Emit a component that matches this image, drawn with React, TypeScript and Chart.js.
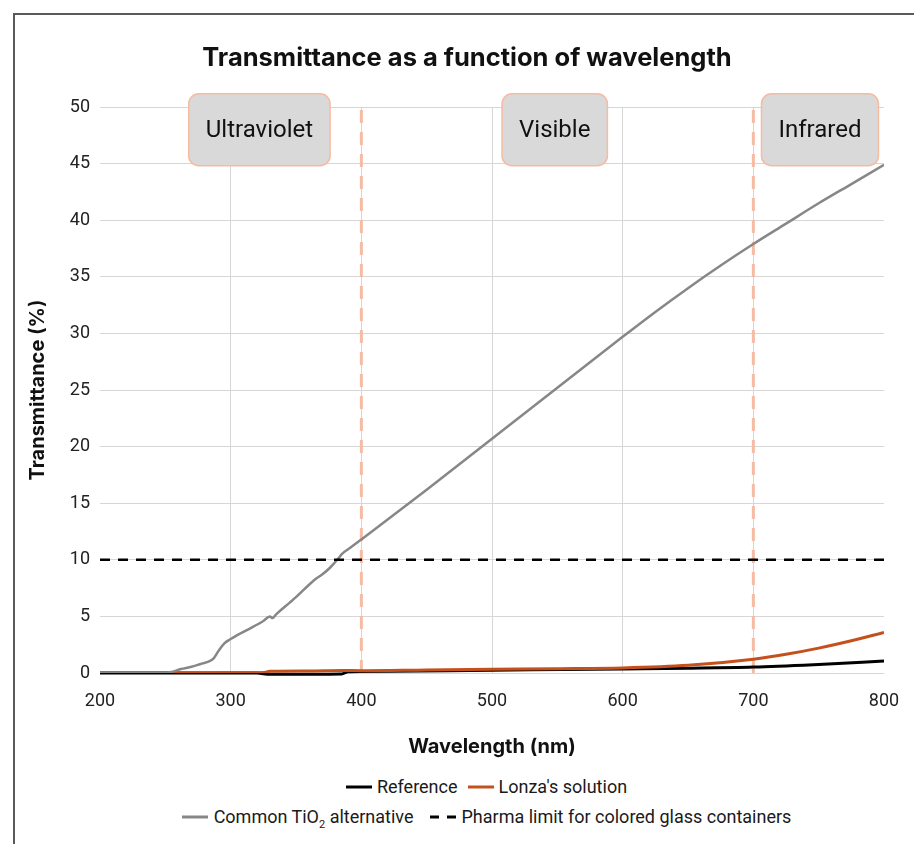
import React, { useEffect, useRef } from 'react';
import { Chart, registerables } from 'chart.js';

Chart.register(...registerables);

// ---- Data ----
const tio2Wavelength = [200, 250, 255, 262, 270, 277, 283, 287, 291, 295, 300, 305, 315, 325, 330, 332, 335, 345, 350, 360, 365, 370, 376, 383, 385, 392, 400, 450, 500, 550, 600, 625, 650, 675, 700, 725, 750, 775, 800];
const tio2Transmittance = [0, 0, 0.1, 0.35, 0.55, 0.8, 1.0, 1.3, 2.0, 2.6, 3.0, 3.35, 3.95, 4.6, 5.0, 4.85, 5.2, 6.2, 6.7, 7.8, 8.3, 8.7, 9.3, 10.2, 10.5, 11.1, 11.8, 16.2, 20.7, 25.2, 29.7, 31.9, 34.0, 36.0, 37.9, 39.7, 41.5, 43.2, 44.9];

const lonzaWavelength = [200, 250, 300, 325, 330, 360, 385, 400, 450, 500, 550, 600, 650, 700, 725, 750, 775, 800];
const lonzaTransmittance = [0, 0, 0.02, 0.05, 0.15, 0.18, 0.22, 0.2, 0.27, 0.33, 0.38, 0.45, 0.68, 1.22, 1.65, 2.2, 2.85, 3.58];

const referenceWavelength = [200, 320, 330, 385, 390, 400, 500, 600, 650, 700, 750, 800];
const referenceTransmittance = [0, 0, -0.12, -0.08, 0.12, 0.14, 0.25, 0.36, 0.42, 0.52, 0.76, 1.06];

const pharmaLimitWavelength = [200, 800];
const pharmaLimitValue = [10, 10];

const regionBoundaries = [400, 700];
const regionLabels = ['Ultraviolet', 'Visible', 'Infrared'];
const regionCenters = [322, 548, 751];
const regionLabelLevel = 48;

const xTicks = [200, 300, 400, 500, 600, 700, 800];

const toPoints = (xs: number[], ys: number[]) => xs.map((x, i) => ({ x, y: ys[i] }));

const FONT = 'Roboto, "Noto Sans", sans-serif';
const TITLE_FONT = 'Inter, Roboto, sans-serif';

const regionPlugin = {
  id: 'regionBoxes',
  afterDatasetsDraw(chart: any) {
    const { ctx, scales } = chart;
    const x = scales.x;
    const y = scales.y;
    ctx.save();
    ctx.font = `24px ${FONT}`;
    regionLabels.forEach((label, i) => {
      const cx = x.getPixelForValue(regionCenters[i]);
      const cy = y.getPixelForValue(regionLabelLevel);
      const w = ctx.measureText(label).width + 34;
      const h = 72;
      ctx.beginPath();
      if (ctx.roundRect) ctx.roundRect(cx - w / 2, cy - h / 2, w, h, 10);
      else ctx.rect(cx - w / 2, cy - h / 2, w, h);
      ctx.fillStyle = '#d9d9d9';
      ctx.fill();
      ctx.lineWidth = 1.5;
      ctx.strokeStyle = '#f6bba3';
      ctx.stroke();
      ctx.fillStyle = '#111111';
      ctx.textAlign = 'center';
      ctx.textBaseline = 'middle';
      ctx.fillText(label, cx, cy + 1);
    });
    ctx.restore();
  },
};

function LegendLine({ color, dashed }: { color: string; dashed?: boolean }) {
  return (
    <svg width={26} height={6} style={{ display: 'inline-block', verticalAlign: 'middle' }}>
      <line x1={0} y1={3} x2={26} y2={3} stroke={color} strokeWidth={3} strokeDasharray={dashed ? '9 8' : undefined} />
    </svg>
  );
}

export default function App() {
  const canvasRef = useRef<HTMLCanvasElement | null>(null);

  useEffect(() => {
    if (!canvasRef.current) return;
    const chart = new Chart(canvasRef.current, {
      type: 'line',
      data: {
        datasets: [
          {
            label: 'Pharma limit for colored glass containers',
            data: toPoints(pharmaLimitWavelength, pharmaLimitValue),
            borderColor: '#000000',
            borderWidth: 2.5,
            borderDash: [10, 8],
            pointRadius: 0,
          },
          {
            label: 'Common TiO₂ alternative',
            data: toPoints(tio2Wavelength, tio2Transmittance),
            borderColor: '#878787',
            borderWidth: 2.5,
            pointRadius: 0,
            cubicInterpolationMode: 'monotone',
          },
          {
            label: "Lonza's solution",
            data: toPoints(lonzaWavelength, lonzaTransmittance),
            borderColor: '#c4501c',
            borderWidth: 3,
            pointRadius: 0,
            cubicInterpolationMode: 'monotone',
          },
          {
            label: 'Reference',
            data: toPoints(referenceWavelength, referenceTransmittance),
            borderColor: '#000000',
            borderWidth: 3,
            pointRadius: 0,
            cubicInterpolationMode: 'monotone',
            clip: 4,
          },
          ...regionBoundaries.map((b) => ({
            label: `boundary ${b}`,
            data: [{ x: b, y: 0 }, { x: b, y: 50 }],
            borderColor: '#f6bba3',
            borderWidth: 3,
            borderDash: [13, 9],
            pointRadius: 0,
          })),
        ],
      },
      options: {
        animation: false,
        responsive: false,
        layout: { padding: { left: 50, right: 30, top: 0, bottom: 0 } },
        plugins: {
          legend: { display: false },
          tooltip: { enabled: false },
          title: {
            display: true,
            text: 'Transmittance as a function of wavelength',
            color: '#111111',
            font: { family: TITLE_FONT, size: 25.5, weight: 'bold', lineHeight: 1.2 },
            padding: { top: 43.5, bottom: 33 },
          },
        },
        scales: {
          x: {
            type: 'linear',
            min: 200,
            max: 800,
            afterBuildTicks: (scale: any) => {
              scale.ticks = xTicks.map((v) => ({ value: v }));
            },
            afterFit: (scale: any) => {
              scale.height = 87;
              scale.paddingLeft = 0;
              scale.paddingRight = 0;
            },
            ticks: {
              color: '#222222',
              font: { family: FONT, size: 18 },
              padding: 18,
            },
            grid: {
              color: (ctx: any) =>
                ctx.tick && (ctx.tick.value === 200 || ctx.tick.value === 800) ? 'rgba(0,0,0,0)' : '#d6d6d6',
              drawTicks: false,
              lineWidth: 1,
            },
            border: { display: false },
            title: {
              display: true,
              text: 'Wavelength (nm)',
              color: '#111111',
              font: { family: TITLE_FONT, size: 20, weight: 'bold', lineHeight: 1.2 },
              padding: { top: 0, bottom: 1 },
            },
          },
          y: {
            min: 0,
            max: 50,
            afterFit: (scale: any) => {
              scale.width = 50;
            },
            ticks: {
              stepSize: 5,
              color: '#222222',
              font: { family: FONT, size: 18 },
              padding: 10,
            },
            grid: { color: '#d6d6d6', drawTicks: false, lineWidth: 1 },
            border: { display: false },
            title: {
              display: true,
              text: 'Transmittance (%)',
              color: '#111111',
              font: { family: TITLE_FONT, size: 20, weight: 'bold', lineHeight: 1.2 },
              padding: { top: -24, bottom: 0 },
            },
          },
        },
      },
      plugins: [regionPlugin],
    } as any);
    return () => chart.destroy();
  }, []);

  const textStyle: React.CSSProperties = { fontFamily: FONT, fontSize: 18, color: '#1a1a1a', whiteSpace: 'nowrap', lineHeight: '22px' };

  return (
    <div style={{ position: 'fixed', left: 0, top: 0, width: 914, height: 844, overflow: 'hidden', background: '#fff' }}>
      <div
        style={{
          position: 'absolute',
          left: 13,
          top: 13,
          width: 1000,
          height: 1000,
          border: '2px solid #5a5a5a',
        }}
      />
      <canvas ref={canvasRef} width={914} height={760} style={{ position: 'absolute', left: 0, top: 0, width: 914, height: 760 }} />
      <div style={{ position: 'absolute', left: 59, top: 776, width: 855, display: 'flex', justifyContent: 'center', ...textStyle }}>
        <span style={{ display: 'flex', alignItems: 'center', gap: 5 }}>
          <LegendLine color="#000000" />
          <span>Reference</span>
        </span>
        <span style={{ display: 'flex', alignItems: 'center', gap: 5, marginLeft: 10 }}>
          <LegendLine color="#c4501c" />
          <span>Lonza's solution</span>
        </span>
      </div>
      <div style={{ position: 'absolute', left: 59, top: 806, width: 855, display: 'flex', justifyContent: 'center', ...textStyle }}>
        <span style={{ display: 'flex', alignItems: 'center', gap: 6 }}>
          <LegendLine color="#878787" />
          <span>
            Common TiO<sub style={{ fontSize: 11, lineHeight: 0 }}>2</sub> alternative
          </span>
        </span>
        <span style={{ display: 'flex', alignItems: 'center', gap: 6, marginLeft: 16 }}>
          <LegendLine color="#000000" dashed />
          <span>Pharma limit for colored glass containers</span>
        </span>
      </div>
    </div>
  );
}
